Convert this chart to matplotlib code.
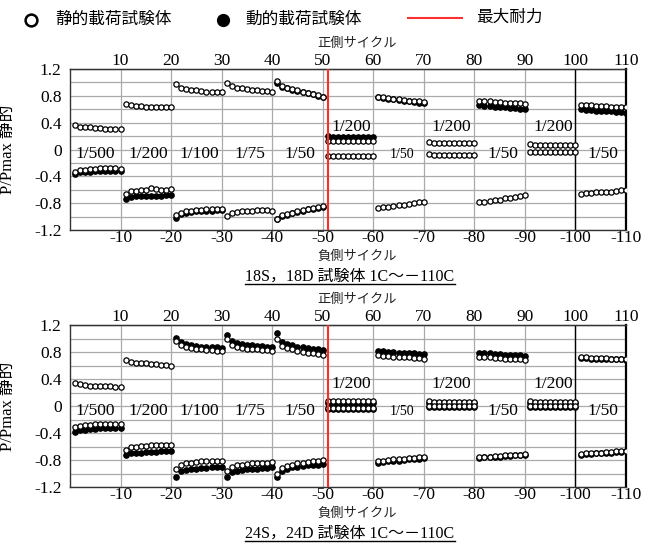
import numpy as np
import matplotlib
matplotlib.use('Agg')
import matplotlib.pyplot as plt
from matplotlib.lines import Line2D

plt.rcParams['font.family'] = ['Liberation Serif', 'Noto Sans CJK JP']

nan = np.nan
cycles = np.arange(1, 111)

# 18S (static) / 18D (dynamic)
s_pos_18 = [.36, .34, .33, .33, .32, .32, .31, .31, .31, .30,
            .68, .66, .65, .65, .64, .64, .64, .63, .63, .63,
            .97, .92, .90, .89, .88, .87, .86, .86, .85, .85,
            .99, .94, .92, .91, .90, .89, .88, .87, .87, .86,
            1.02, .95, .92, .90, .88, .86, .84, .82, .81, .78,
            .13, .12, .12, .12, .12, .12, .12, .12, .12, .12,
            .79, .78, .77, .76, .75, .74, .73, .72, .72, .71,
            .11, .10, .10, .10, .10, .10, .10, .10, .10, .10,
            .73, .72, .72, .71, .71, .70, .70, .69, .69, .68,
            .08, .07, .07, .07, .07, .07, .07, .07, .07, .07,
            .66, .66, .66, .65, .65, .65, .64, .64, .64, .63]
s_neg_18 = [-.34, -.31, -.30, -.29, -.29, -.28, -.27, -.28, -.28, -.29,
            -.67, -.62, -.62, -.61, -.60, -.58, -.59, -.60, -.61, -.59,
            -.98, -.94, -.92, -.91, -.90, -.90, -.89, -.89, -.88, -.88,
            -.99, -.95, -.93, -.92, -.91, -.91, -.90, -.90, -.90, -.91,
            -1.03, -.98, -.96, -.94, -.92, -.90, -.88, -.87, -.86, -.84,
            -.09, -.09, -.09, -.09, -.09, -.09, -.09, -.09, -.09, -.09,
            -.87, -.86, -.85, -.84, -.83, -.82, -.81, -.80, -.79, -.78,
            -.07, -.08, -.08, -.08, -.08, -.08, -.08, -.08, -.08, -.08,
            -.79, -.78, -.77, -.76, -.75, -.73, -.72, -.71, -.70, -.68,
            -.04, -.04, -.04, -.04, -.04, -.04, -.04, -.04, -.04, -.04,
            -.66, -.65, -.65, -.64, -.64, -.63, -.63, -.62, -.61, -.60]
d_pos_18 = [nan] * 40 + \
           [.99, .93, .91, .89, .87, .85, .84, .82, .80, .79,
            .20, .18, .18, .18, .18, .18, .18, .18, .18, .18,
            .78, .77, .76, .75, .74, .73, .72, .71, .70, .69] + \
           [nan] * 10 + \
           [.66, .65, .65, .64, .63, .63, .62, .62, .61, .60] + \
           [nan] * 10 + \
           [.60, .59, .59, .58, .58, .57, .57, .56, .56, .55]
d_neg_18 = [-.37, -.34, -.33, -.33, -.32, -.32, -.32, -.32, -.32, -.32,
            -.74, -.71, -.70, -.70, -.69, -.69, -.69, -.69, -.68, -.68,
            -1.02, -.96, -.94, -.93, -.92, -.92, -.91, -.91, -.90, -.90] + \
           [nan] * 10 + \
           [-1.04, -.99, -.97, -.95, -.93, -.91, -.89, -.88, -.87, -.86] + \
           [nan] * 60

# 24S (static) / 24D (dynamic)
s_pos_24 = [.34, .32, .31, .30, .30, .29, .29, .29, .28, .28,
            .68, .65, .64, .63, .63, .62, .62, .61, .61, .60,
            .96, .91, .88, .86, .85, .84, .83, .83, .82, .82,
            .99, .90, .88, .86, .85, .84, .84, .83, .83, .82,
            1.00, .89, .86, .84, .82, .80, .79, .78, .77, .75,
            .07, .07, .07, .07, .07, .07, .07, .07, .07, .07,
            .75, .74, .74, .73, .73, .72, .72, .71, .71, .70,
            .07, .06, .06, .06, .06, .06, .06, .06, .06, .06,
            .73, .72, .72, .71, .71, .70, .70, .69, .69, .68,
            .07, .06, .06, .06, .06, .06, .06, .06, .06, .06,
            .72, .72, .71, .71, .71, .71, .70, .70, .70, .70]
s_neg_24 = [-.31, -.29, -.28, -.28, -.27, -.27, -.26, -.26, -.26, -.26,
            -.65, -.61, -.60, -.59, -.59, -.58, -.58, -.58, -.58, -.58,
            -.94, -.87, -.85, -.84, -.83, -.82, -.82, -.81, -.81, -.81,
            -.97, -.90, -.88, -.87, -.86, -.85, -.85, -.84, -.84, -.83,
            -1.00, -.92, -.89, -.87, -.85, -.84, -.83, -.82, -.81, -.80,
            -.03, -.03, -.03, -.03, -.03, -.03, -.03, -.03, -.03, -.03,
            -.82, -.81, -.80, -.79, -.79, -.78, -.77, -.77, -.76, -.75,
            .00, .00, .00, .00, .00, .00, .00, .00, .00, .00,
            -.76, -.75, -.75, -.74, -.74, -.73, -.73, -.72, -.72, -.71,
            .00, .00, .00, .00, .00, .00, .00, .00, .00, .00,
            -.71, -.70, -.70, -.69, -.69, -.68, -.68, -.67, -.67, -.66]
d_pos_24 = [nan] * 20 + \
           [1.01, .95, .92, .90, .89, .88, .88, .87, .87, .86,
            1.05, .96, .93, .92, .91, .90, .89, .89, .88, .87,
            1.08, .95, .92, .90, .88, .87, .86, .85, .84, .83,
            .05, .05, .05, .05, .05, .05, .05, .05, .05, .05,
            .81, .81, .80, .80, .79, .79, .78, .78, .77, .77,
            .05, .05, .05, .05, .05, .05, .05, .05, .05, .05,
            .79, .78, .78, .77, .77, .76, .76, .75, .75, .74,
            .05, .05, .05, .05, .05, .05, .05, .05, .05, .05,
            .71, .71, .70, .70, .70, .70, .69, .69, .69, .68]
d_neg_24 = [-.39, -.36, -.35, -.34, -.34, -.33, -.33, -.33, -.32, -.32,
            -.73, -.70, -.69, -.69, -.68, -.68, -.68, -.67, -.67, -.67,
            -1.05, -.97, -.95, -.94, -.93, -.92, -.92, -.91, -.91, -.91,
            -1.05, -.98, -.96, -.95, -.94, -.93, -.93, -.92, -.92, -.91,
            -1.05, -.96, -.93, -.91, -.90, -.89, -.88, -.87, -.87, -.86,
            -.05, -.05, -.05, -.05, -.05, -.05, -.05, -.05, -.05, -.05,
            -.84, -.83, -.82, -.81, -.81, -.80, -.79, -.79, -.78, -.77,
            -.01, -.01, -.01, -.01, -.01, -.01, -.01, -.01, -.01, -.01,
            -.77, -.76, -.76, -.75, -.75, -.74, -.74, -.73, -.73, -.72,
            -.01, -.01, -.01, -.01, -.01, -.01, -.01, -.01, -.01, -.01,
            -.72, -.71, -.71, -.70, -.70, -.69, -.69, -.68, -.68, -.67]

# amplitude labels: (x, y, text, size)
amp_labels = [(5, -0.07, '1/500', 12.5), (15.4, -0.07, '1/200', 12.5),
              (25.6, -0.07, '1/100', 12.5), (35.6, -0.07, '1/75', 12.5),
              (45.5, -0.07, '1/50', 12.5), (55.7, 0.33, '1/200', 12.5),
              (75.5, 0.33, '1/200', 12.5), (95.6, 0.33, '1/200', 12.5),
              (65.6, -0.08, '1/50', 10), (85.6, -0.07, '1/50', 12.5),
              (105.4, -0.07, '1/50', 12.5)]
max_cycle = 51

W, H = 653, 543
fig = plt.figure(figsize=(W / 100, H / 100), dpi=100)


def draw_panel(top_px, bot_px, s_pos, s_neg, d_pos, d_neg, title):
    ax = fig.add_axes([70 / W, 1 - bot_px / H, 556 / W, (bot_px - top_px) / H])
    ax.set_xlim(0, 110)
    ax.set_ylim(-1.2, 1.2)
    ax.set_yticks([1.2, 0.8, 0.4, 0, -0.4, -0.8, -1.2])
    ax.set_yticklabels(['1.2', '0.8', '0.4', '0', '-0.4', '-0.8', '-1.2'])
    ax.set_yticks(np.arange(-1.0, 1.1, 0.2), minor=True)
    ax.set_xticks(range(10, 111, 10))
    ax.set_xticklabels(['-%d' % v for v in range(10, 111, 10)])
    ax.tick_params(which='both', length=0, labelsize=12.5)
    ax.tick_params(axis='x', pad=0)
    ax.tick_params(axis='y', pad=6)
    ax.grid(which='both', color='#aaaaaa', lw=0.9)
    ax.set_axisbelow(True)
    top = ax.secondary_xaxis('top')
    top.set_xticks(range(10, 111, 10))
    top.set_xticklabels([str(v) for v in range(10, 111, 10)])
    top.tick_params(length=0, labelsize=12.5, pad=0)
    for sp in ax.spines.values():
        sp.set_color('#333333')
        sp.set_linewidth(1.0)
    ax.spines['right'].set_color('black')
    ax.spines['right'].set_linewidth(1.6)
    ax.axvline(100, color='black', lw=1.0, zorder=1)

    ax.plot(cycles, d_pos, 'o', ms=3.8, color='black', zorder=3)
    ax.plot(cycles, d_neg, 'o', ms=3.8, color='black', zorder=3)
    ax.plot(cycles, s_pos, 'o', ms=3.8, mfc='white', mec='black', mew=0.9, zorder=4)
    ax.plot(cycles, s_neg, 'o', ms=3.8, mfc='white', mec='black', mew=0.9, zorder=4)
    ax.axvline(max_cycle, color='#ff2a2a', lw=1.5, zorder=5)

    for x, y, t, fs in amp_labels:
        ax.text(x, y, t, ha='center', va='center', fontsize=fs, zorder=6)

    ax.set_ylabel('P/Pmax 静的', fontsize=12)
    ax.yaxis.set_label_coords(-0.098, 0.5)

    fig.text(357 / W, 1 - (top_px - 25) / H, '正側サイクル', ha='center', va='center',
             fontsize=9.5, color='#222222')
    fig.text(357 / W, 1 - (bot_px + 27) / H, '負側サイクル', ha='center', va='center',
             fontsize=9.5, color='#222222')
    t = fig.text(350 / W, 1 - (bot_px + 47) / H, title, ha='center', va='center',
                 fontsize=11.5)
    return t


t1 = draw_panel(69, 230, s_pos_18, s_neg_18, d_pos_18, d_neg_18,
                '18S，18D 試験体 1C～－110C')
t2 = draw_panel(325, 487, s_pos_24, s_neg_24, d_pos_24, d_neg_24,
                '24S，24D 試験体 1C～－110C')

# legend
ly = 1 - 20 / H
fig.add_artist(Line2D([31 / W], [ly], marker='o', ms=8.5, mfc='white', mec='black', mew=1.8))
fig.text(55 / W, ly, '静的載荷試験体', ha='left', va='center', fontsize=12)
fig.add_artist(Line2D([223 / W], [ly], marker='o', ms=8.5, color='black'))
fig.text(245 / W, ly, '動的載荷試験体', ha='left', va='center', fontsize=12)
fig.add_artist(Line2D([408 / W, 462 / W], [1 - 18 / H] * 2, color='#ff3030', lw=1.5))
fig.text(476 / W, 1 - 18 / H, '最大耐力', ha='left', va='center', fontsize=12)

# underline the titles
fig.canvas.draw()
for t in (t1, t2):
    bb = t.get_window_extent().transformed(fig.transFigure.inverted())
    fig.add_artist(Line2D([bb.x0, bb.x1], [bb.y0 + 0.002] * 2, color='black', lw=1.0))

fig.savefig('out.png', dpi=100)
